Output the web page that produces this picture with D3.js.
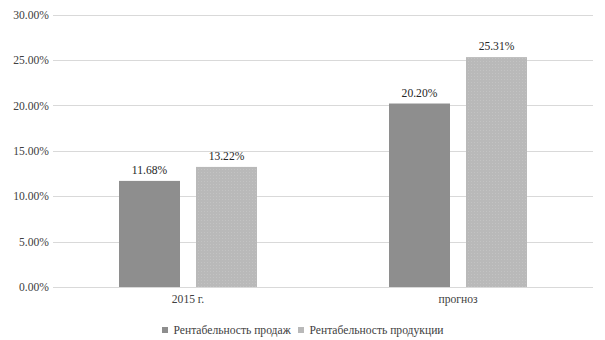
<!DOCTYPE html>
<html>
<head>
<meta charset="utf-8">
<script src="https://cdn.jsdelivr.net/npm/d3@7"></script>
<style>
  html, body { margin: 0; padding: 0; background: #ffffff; }
  svg { display: block; font-family: "Liberation Serif", "Times New Roman", serif; }
</style>
</head>
<body>
<svg id="chart" width="605" height="340"></svg>
<script>
// Profitability indicators, percent
const categories = ["2015 г.", "прогноз"];
const seriesNames = ["Рентабельность продаж", "Рентабельность продукции"];
const salesProfitability = [11.68, 20.20];
const productProfitability = [13.22, 25.31];
const yTicks = [0, 5, 10, 15, 20, 25, 30];
const seriesColors = ["#8e8e8e", "#b9b9b9"];

const seriesValues = [salesProfitability, productProfitability];
const FONT = "Liberation Serif, Times New Roman, serif";

const svg = d3.select("#chart");
const margin = { left: 53, right: 12, top: 14.5, bottom: 53 };
const W = 605, H = 340;

// Subtle dotted texture for the lighter series
const defs = svg.append("defs");
const pat = defs.append("pattern")
  .attr("id", "dots")
  .attr("width", 3).attr("height", 3)
  .attr("patternUnits", "userSpaceOnUse");
pat.append("rect").attr("width", 3).attr("height", 3).attr("fill", seriesColors[1]);
pat.append("rect").attr("x", 1).attr("y", 1).attr("width", 1).attr("height", 1).attr("fill", "#c3c3c3");

const y = d3.scaleLinear().domain([0, 30]).range([H - margin.bottom, margin.top]);
const x0 = d3.scaleBand().domain(categories).range([margin.left, W - margin.right]).padding(0);
const x1 = d3.scaleBand().domain(seriesNames).range([0, x0.bandwidth()])
  .paddingInner(16 / 77).paddingOuter(0.857);

// Gridlines
svg.append("g")
  .selectAll("line")
  .data(yTicks)
  .join("line")
  .attr("x1", margin.left).attr("x2", W - margin.right)
  .attr("y1", d => Math.round(y(d)) + 0.5).attr("y2", d => Math.round(y(d)) + 0.5)
  .attr("stroke", "#d9d9d9").attr("stroke-width", 1);

// Y axis labels
const yAxis = d3.axisLeft(y).tickValues(yTicks).tickSize(0).tickPadding(4)
  .tickFormat(d => d3.format(".2f")(d) + "%");
const gy = svg.append("g").attr("transform", `translate(${margin.left},0)`).call(yAxis);
gy.attr("font-family", FONT);
gy.select(".domain").remove();
gy.selectAll("text").attr("font-size", 11.6).attr("fill", "#404040");

// Bars
const groups = svg.append("g")
  .selectAll("g")
  .data(categories)
  .join("g")
  .attr("transform", d => `translate(${x0(d)},0)`);

groups.selectAll("rect")
  .data((c, i) => seriesNames.map((s, j) => ({ s, j, v: seriesValues[j][i] })))
  .join("rect")
  .attr("x", d => x1(d.s))
  .attr("width", x1.bandwidth())
  .attr("y", d => y(d.v))
  .attr("height", d => y(0) - y(d.v))
  .attr("fill", d => d.j === 1 ? "url(#dots)" : seriesColors[0]);

groups.selectAll("text.val")
  .data((c, i) => seriesNames.map((s, j) => ({ s, j, v: seriesValues[j][i] })))
  .join("text")
  .attr("class", "val")
  .attr("x", d => x1(d.s) + x1.bandwidth() / 2)
  .attr("y", d => y(d.v) - 7)
  .attr("text-anchor", "middle")
  .attr("font-family", FONT)
  .attr("font-size", 11.6)
  .attr("fill", "#262626")
  .text(d => d3.format(".2f")(d.v) + "%");

// Category axis
const xAxis = d3.axisBottom(x0).tickSize(0).tickPadding(8);
const gx = svg.append("g").attr("transform", `translate(0,${y(0)})`).call(xAxis);
gx.attr("font-family", FONT);
gx.select(".domain").remove();
gx.selectAll("text").attr("font-size", 11.6).attr("fill", "#404040");

// Legend
const legendItems = [
  { name: seriesNames[0], x: 162 },
  { name: seriesNames[1], x: 298 }
];
const lg = svg.append("g").attr("font-family", FONT)
  .selectAll("g").data(legendItems).join("g")
  .attr("transform", d => `translate(${d.x},327)`);
lg.append("rect").attr("width", 6).attr("height", 6)
  .attr("fill", (d, i) => seriesColors[i]);
lg.append("text").attr("x", 11.5).attr("y", 6.8)
  .attr("font-size", 11.6).attr("fill", "#404040")
  .text(d => d.name);
</script>
</body>
</html>
